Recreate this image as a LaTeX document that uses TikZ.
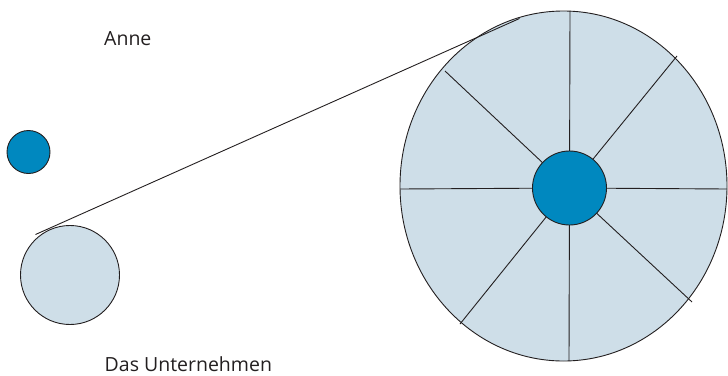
\documentclass[tikz,border=0pt]{standalone}
\usepackage{fontspec}
\setmainfont{Open Sans}
\usetikzlibrary{shapes.geometric}
\definecolor{lightblue}{HTML}{CEDEE8}
\definecolor{darkblue}{HTML}{0088BF}
\definecolor{ink}{HTML}{231F20}
\tikzset{
  outline/.style={draw=ink, line width=0.9pt, inner sep=0pt},
  spoke/.style={draw=ink, line width=0.9pt},
  label/.style={font=\fontsize{19.5}{22}\selectfont, text=ink, anchor=base west, inner sep=0pt, text depth=0pt}
}
\begin{document}
\begin{tikzpicture}[x=1pt,y=-1pt]
\useasboundingbox (0,0) rectangle (728,375);
% big wheel
\node[outline, ellipse, fill=lightblue, minimum width=327pt, minimum height=350pt] (wheel) at (563.5,186) {};
\coordinate (hub) at (569.5,188);
\coordinate (s1) at (570,11);
\coordinate (s2) at (677,56);
\coordinate (s3) at (727,189);
\coordinate (s4) at (692,302);
\coordinate (s5) at (569,361);
\coordinate (s6) at (460,324);
\coordinate (s7) at (400,189);
\coordinate (s8) at (445,71);
\foreach \s in {s1,s2,s3,s4,s5,s6,s7,s8} \draw[spoke] (\s) -- (hub);
\node[outline, circle, fill=darkblue, minimum size=74pt] (inner) at (hub) {};
% left circles
\node[outline, circle, fill=darkblue, minimum size=43pt] (anne) at (28.5,152) {};
\node[outline, circle, fill=lightblue, minimum size=99pt] (firm) at (70,275) {};
% connector
\coordinate (lend) at (35.5,234.5);
\coordinate (rend) at (519.5,18.5);
\draw[spoke] (lend) -- (rend);
% labels
\node[label] (tanne) at (104,45) {Anne};
\node[label] (tfirm) at (104.5,371.5) {Das Unternehmen};
\end{tikzpicture}
\end{document}
